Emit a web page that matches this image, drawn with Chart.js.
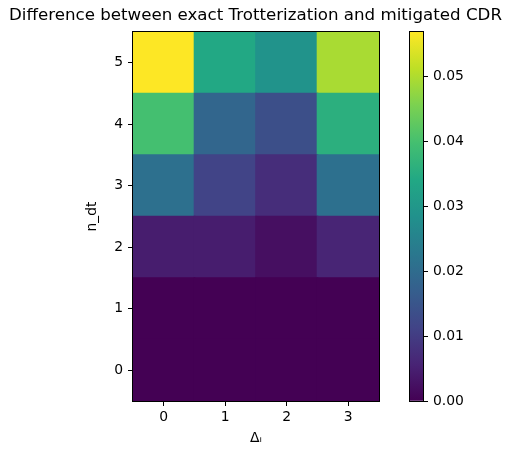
<!DOCTYPE html>
<html>
<head>
<meta charset="utf-8">
<script src="https://cdn.jsdelivr.net/npm/chart.js@4/dist/chart.umd.min.js"></script>
<style>
  body { margin: 0; background: #fff; }
  #wrap { position: relative; width: 511px; height: 457px; }
  canvas { position: absolute; left: 0; top: 0; }
</style>
</head>
<body>
<div id="wrap">
  <canvas id="heat" width="511" height="457"></canvas>
  <canvas id="cbar" width="511" height="457"></canvas>
</div>
<script>
'use strict';

// tick labels
const deltaLabels = ['0', '1', '2', '3'];
const nDtTicks = [0, 1, 2, 3, 4, 5];
const cbarTicks = [0, 0.01, 0.02, 0.03, 0.04, 0.05];

// difference per n_dt row (one value per delta_i)
const nDt0 = [0, 0, 0, 0];
const nDt1 = [0, 0, 0, 0];
const nDt2 = [0.0045, 0.0045, 0.0022, 0.0058];
const nDt3 = [0.0210, 0.0114, 0.0072, 0.0210];
const nDt4 = [0.0398, 0.0187, 0.0136, 0.0358];
const nDt5 = [0.0568, 0.0341, 0.0290, 0.0494];

const rows = [nDt0, nDt1, nDt2, nDt3, nDt4, nDt5];
const vmax = Math.max(...rows.flat());

// viridis stops
const viridisStops = ['#440154', '#482475', '#414487', '#355f8d', '#2a788e', '#21918c',
  '#22a884', '#44bf70', '#7ad151', '#bddf26', '#fde725'];

function hexToRgb(h) {
  return [parseInt(h.slice(1, 3), 16), parseInt(h.slice(3, 5), 16), parseInt(h.slice(5, 7), 16)];
}

function viridis(t) {
  t = Math.min(1, Math.max(0, t));
  let pos = t * (viridisStops.length - 1);
  let i = Math.min(Math.floor(pos), viridisStops.length - 2);
  let f = pos - i;
  let a = hexToRgb(viridisStops[i]);
  let b = hexToRgb(viridisStops[i + 1]);
  let c = a.map((v, k) => Math.round(v + (b[k] - v) * f));
  return `rgb(${c[0]},${c[1]},${c[2]})`;
}

const font = { family: 'DejaVu Sans', size: 13.9 };

// black frame round the axes
const framePlugin = {
  id: 'frame',
  afterDraw(chart) {
    const a = chart.chartArea;
    const ctx = chart.ctx;
    ctx.save();
    ctx.strokeStyle = '#000';
    ctx.lineWidth = 1;
    ctx.strokeRect(Math.round(a.left) - 0.5, Math.round(a.top) - 0.5,
      Math.round(a.right - a.left) + 1, Math.round(a.bottom - a.top) + 1);
    ctx.restore();
  }
};

let datasets = [];
for (let r = 0; r < rows.length; r++) {
  datasets.push({
    label: 'n_dt ' + r,
    data: rows[r].map(() => [r - 0.5, r + 0.5]),
    backgroundColor: rows[r].map(v => viridis(v / vmax)),
    borderWidth: 0,
    inflateAmount: 0.8,
    grouped: false,
    barPercentage: 1,
    categoryPercentage: 1
  });
}

new Chart(document.getElementById('heat'), {
  type: 'bar',
  data: { labels: deltaLabels, datasets: datasets },
  options: {
    responsive: false,
    animation: false,
    layout: { padding: 0 },
    plugins: {
      legend: { display: false },
      tooltip: { enabled: false },
      title: {
        display: true,
        text: 'Difference between exact Trotterization and mitigated CDR',
        color: '#000',
        font: { family: 'DejaVu Sans', size: 16.67, weight: 'normal' },
        padding: { top: 6, bottom: 6 }
      }
    },
    scales: {
      x: {
        type: 'category',
        offset: true,
        grid: { display: true, drawOnChartArea: false, offset: false, tickLength: 5, color: '#000' },
        border: { display: false },
        ticks: { color: '#000', font: font, padding: 3, maxRotation: 0 },
        title: { display: true, text: 'Δᵢ', color: '#000', font: font, padding: { top: 0, bottom: 10 } },
        afterFit(s) { s.height = 56; }
      },
      y: {
        type: 'linear',
        min: -0.5,
        max: 5.5,
        afterBuildTicks(s) { s.ticks = nDtTicks.map(v => ({ value: v })); },
        grid: { display: true, drawOnChartArea: false, tickLength: 5, color: '#000' },
        border: { display: false },
        ticks: { color: '#000', font: font, padding: 5 },
        title: { display: true, text: 'n_dt', color: '#000', font: font, padding: { top: 84, bottom: 0 } },
        afterFit(s) { s.width = 133; }
      },
      // empty spacer that leaves room for the colorbar
      spacer: {
        type: 'linear',
        position: 'right',
        grid: { display: false },
        border: { display: false },
        ticks: { display: false },
        afterFit(s) { s.width = 132; }
      }
    }
  },
  plugins: [framePlugin]
});

// colorbar
new Chart(document.getElementById('cbar'), {
  type: 'bar',
  data: {
    labels: ['cbar'],
    datasets: [{
      data: [[0, vmax]],
      borderWidth: 0,
      barPercentage: 1,
      categoryPercentage: 1,
      backgroundColor(c) {
        const area = c.chart.chartArea;
        if (!area) return '#440154';
        const g = c.chart.ctx.createLinearGradient(0, area.bottom, 0, area.top);
        for (let i = 0; i < viridisStops.length; i++) {
          g.addColorStop(i / (viridisStops.length - 1), viridisStops[i]);
        }
        return g;
      }
    }]
  },
  options: {
    responsive: false,
    animation: false,
    layout: { padding: { left: 410, right: 0, top: 32, bottom: 56 } },
    plugins: { legend: { display: false }, tooltip: { enabled: false } },
    scales: {
      x: { display: false },
      y: {
        position: 'right',
        min: 0,
        max: vmax,
        afterBuildTicks(s) { s.ticks = cbarTicks.map(v => ({ value: v })); },
        grid: { display: true, drawOnChartArea: false, tickLength: 5, color: '#000' },
        border: { display: false },
        ticks: { color: '#000', font: font, padding: 5, callback: v => v.toFixed(2) },
        afterFit(s) { s.width = 88; }
      }
    }
  },
  plugins: [framePlugin]
});
</script>
</body>
</html>
